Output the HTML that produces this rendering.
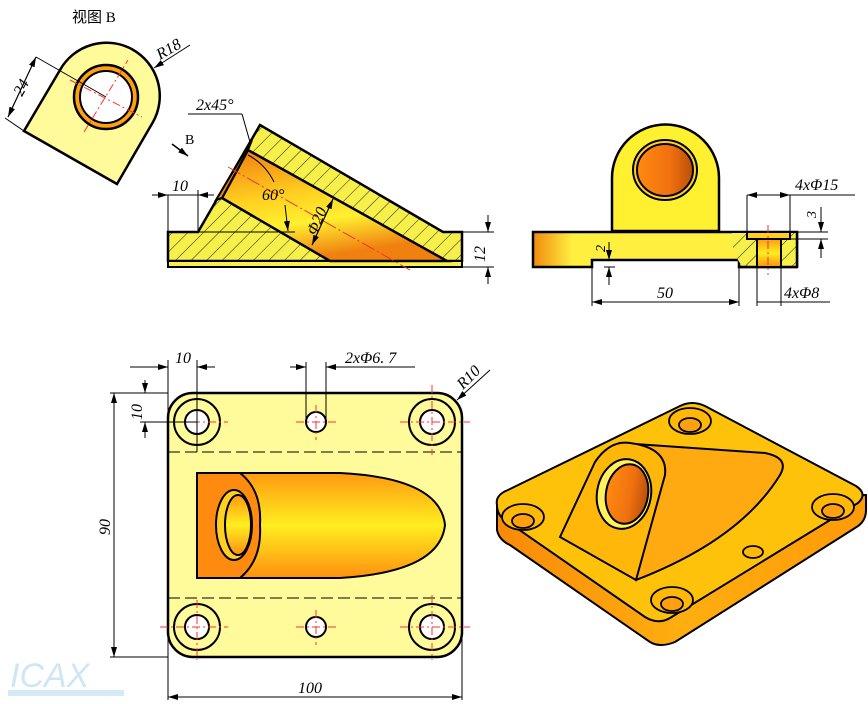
<!DOCTYPE html>
<html><head><meta charset="utf-8"><style>
html,body{margin:0;padding:0;background:#fff;}
svg{display:block;}
text{font-family:"Liberation Serif","Noto Serif CJK SC",serif;font-style:italic;font-size:16px;fill:#000;}
</style></head><body>
<svg width="868" height="704" viewBox="0 0 868 704" xmlns="http://www.w3.org/2000/svg">
<defs>
<pattern id="hatch" patternUnits="userSpaceOnUse" width="11" height="11" patternTransform="rotate(45)">
<rect width="11" height="11" fill="#f8f04a"/><line x1="0" y1="0" x2="0" y2="11" stroke="#222" stroke-width="1"/></pattern>
<linearGradient id="bore" x1="0" y1="0" x2="0.3" y2="1"><stop offset="0" stop-color="#f07a10"/><stop offset="0.45" stop-color="#ffd020"/><stop offset="0.7" stop-color="#fff030"/><stop offset="1" stop-color="#f08010"/></linearGradient>
<linearGradient id="cyl" x1="0" y1="0" x2="0" y2="1"><stop offset="0" stop-color="#ff9a10"/><stop offset="0.5" stop-color="#ffee20"/><stop offset="1" stop-color="#ff9010"/></linearGradient>
<linearGradient id="hole" x1="0" y1="0" x2="1" y2="0"><stop offset="0" stop-color="#ff8a10"/><stop offset="0.6" stop-color="#f07010"/><stop offset="1" stop-color="#b85008"/></linearGradient>
<linearGradient id="baseR" x1="0" y1="0" x2="1" y2="0"><stop offset="0" stop-color="#f08a10"/><stop offset="0.15" stop-color="#fff040"/><stop offset="1" stop-color="#fff040"/></linearGradient>
<linearGradient id="side" x1="0" y1="0" x2="1" y2="0"><stop offset="0" stop-color="#f88a08"/><stop offset="0.5" stop-color="#ffae10"/><stop offset="1" stop-color="#ff9a08"/></linearGradient>
<marker id="ar" markerWidth="10" markerHeight="6" refX="10" refY="3" orient="auto" markerUnits="userSpaceOnUse"><path d="M0,0 L10,3 L0,6z" fill="#000"/></marker>
</defs>

<!-- View B title -->
<text x="72" y="22" style="font-style:normal;font-size:15px;font-family:'Liberation Serif','Noto Sans CJK SC',sans-serif">视图 B</text>

<!-- View B -->
<path d="M24,131 L60,70 A51,51 0 0 1 153,122 L117,184 Z" fill="#fffa9a" stroke="#000" stroke-width="2.5"/>
<circle cx="106" cy="97" r="32" fill="#ffa010" stroke="#000" stroke-width="2.5"/>
<circle cx="106" cy="97" r="26" fill="#fff" stroke="#000" stroke-width="2"/>
<line x1="84" y1="132" x2="128" y2="60" stroke="#f33" stroke-dasharray="8,3,2,3"/>
<line x1="70" y1="80" x2="142" y2="117" stroke="#f33" stroke-dasharray="8,3,2,3"/>
<line x1="36" y1="57" x2="106" y2="97" stroke="#000"/>
<line x1="5" y1="118" x2="24" y2="131" stroke="#000"/>
<line x1="36" y1="57" x2="8" y2="117" stroke="#000" marker-end="url(#ar)"/>
<line x1="8" y1="117" x2="36" y2="57" stroke="#000" marker-end="url(#ar)"/>
<text transform="translate(22,97) rotate(-62)" x="0" y="0">24</text>
<line x1="190" y1="45" x2="154" y2="68" stroke="#000" marker-end="url(#ar)"/>
<text transform="translate(160,60) rotate(-30)" x="0" y="0">R18</text>

<!-- B arrow -->
<line x1="172" y1="144" x2="188" y2="156" stroke="#000" stroke-width="1.5" marker-end="url(#ar)"/>
<text x="185" y="144" style="font-style:normal;font-size:14px">B</text>

<!-- Section view -->
<path d="M168,232 L198,232 L260,125 L443,232 L462,232 L462,261 L168,261 Z" fill="url(#hatch)" stroke="#000" stroke-width="2.5"/>
<rect x="168" y="261" width="294" height="6" fill="#f8f04a" stroke="#000" stroke-width="2"/>
<path d="M248,150 L447,261 L330,261 L222,198 Z" fill="url(#bore)" stroke="#000" stroke-width="2.5"/>
<path d="M252,140 L248,150 L222,198 L216,200 Z" fill="#f08a10" stroke="#000" stroke-width="2"/>
<line x1="228" y1="167" x2="410" y2="270" stroke="#e33" stroke-dasharray="14,3,2,3"/>
<line x1="198" y1="232" x2="295" y2="232" stroke="#000" stroke-width="1"/>
<path d="M248,155 A60,60 0 0 1 274,182" fill="none" stroke="#000"/>
<line x1="285" y1="205" x2="288" y2="231" stroke="#000" marker-end="url(#ar)"/>
<text x="262" y="200">60°</text>
<line x1="333" y1="199" x2="312" y2="245" stroke="#000" marker-end="url(#ar)"/>
<line x1="312" y1="245" x2="333" y2="199" stroke="#000" marker-end="url(#ar)"/>
<text transform="translate(316,236) rotate(-67)">Φ20</text>
<line x1="188" y1="114" x2="242" y2="114" stroke="#000"/>
<line x1="242" y1="114" x2="250" y2="142" stroke="#000"/>
<text x="196" y="110">2x45°</text>
<line x1="168" y1="195" x2="168" y2="232" stroke="#000"/>
<line x1="198" y1="190" x2="198" y2="232" stroke="#000"/>
<line x1="152" y1="195" x2="168" y2="195" stroke="#000" marker-end="url(#ar)"/>
<line x1="214" y1="195" x2="198" y2="195" stroke="#000" marker-end="url(#ar)"/>
<line x1="168" y1="195" x2="198" y2="195" stroke="#000"/>
<text x="172" y="191">10</text>
<line x1="462" y1="232" x2="494" y2="232" stroke="#000"/>
<line x1="462" y1="267" x2="494" y2="267" stroke="#000"/>
<line x1="488" y1="215" x2="488" y2="232" stroke="#000" marker-end="url(#ar)"/>
<line x1="488" y1="284" x2="488" y2="267" stroke="#000" marker-end="url(#ar)"/>
<text transform="translate(485,262) rotate(-90)">12</text>

<!-- Right view -->
<path d="M612,231 L612,178 A53,53 0 0 1 719,178 L719,231 Z" fill="#fff030" stroke="#000" stroke-width="2.5"/>
<ellipse cx="665" cy="170" rx="32" ry="30" fill="#ffd020" stroke="#000" stroke-width="2"/>
<ellipse cx="665" cy="170" rx="28" ry="26" fill="url(#hole)" stroke="#000" stroke-width="2"/>
<path d="M533,232 L797,232 L797,267 L739,267 L739,260 L592,260 L592,267 L533,267 Z" fill="url(#baseR)" stroke="#000" stroke-width="2.5"/>
<path d="M732,233 L797,233 L797,266 L742,266 Q730,250 732,233Z" fill="url(#hatch)"/>
<line x1="797" y1="232" x2="797" y2="267" stroke="#000" stroke-width="2.5"/>
<line x1="739" y1="267" x2="797" y2="267" stroke="#000" stroke-width="2.5"/>
<rect x="747" y="232" width="43" height="7" fill="#ffd020" stroke="#000" stroke-width="2"/>
<rect x="757" y="239" width="24" height="28" fill="url(#cyl)" stroke="#000" stroke-width="2"/>
<line x1="768" y1="225" x2="768" y2="275" stroke="#e33" stroke-dasharray="8,3,2,3"/>
<line x1="592" y1="267" x2="592" y2="306" stroke="#000"/>
<line x1="739" y1="267" x2="739" y2="306" stroke="#000"/>
<line x1="665" y1="302" x2="592" y2="302" stroke="#000" marker-end="url(#ar)"/>
<line x1="665" y1="302" x2="739" y2="302" stroke="#000" marker-end="url(#ar)"/>
<text x="657" y="298">50</text>
<line x1="609" y1="242" x2="609" y2="260" stroke="#000" marker-end="url(#ar)"/>
<line x1="609" y1="285" x2="609" y2="267" stroke="#000" marker-end="url(#ar)"/>
<line x1="604" y1="267" x2="615" y2="267" stroke="#000"/>
<text transform="translate(605,252) rotate(-90)" style="font-size:14px">2</text>
<line x1="747" y1="195" x2="747" y2="232" stroke="#000"/>
<line x1="790" y1="195" x2="790" y2="232" stroke="#000"/>
<line x1="747" y1="195" x2="855" y2="195" stroke="#000"/>
<line x1="770" y1="195" x2="747" y2="195" stroke="#000" marker-end="url(#ar)"/>
<line x1="770" y1="195" x2="790" y2="195" stroke="#000" marker-end="url(#ar)"/>
<text x="795" y="190">4xΦ15</text>
<line x1="797" y1="232" x2="828" y2="232" stroke="#000"/>
<line x1="790" y1="239" x2="828" y2="239" stroke="#000"/>
<line x1="821" y1="207" x2="821" y2="232" stroke="#000" marker-end="url(#ar)"/>
<line x1="821" y1="258" x2="821" y2="239" stroke="#000" marker-end="url(#ar)"/>
<text transform="translate(816,218) rotate(-90)" style="font-size:14px">3</text>
<line x1="757" y1="267" x2="757" y2="306" stroke="#000"/>
<line x1="781" y1="267" x2="781" y2="306" stroke="#000"/>
<line x1="757" y1="302" x2="830" y2="302" stroke="#000"/>
<text x="784" y="298">4xΦ8</text>

<!-- Plan view -->
<rect x="168" y="393" width="294" height="264" rx="25" fill="#fffa9a" stroke="#000" stroke-width="2.5"/>
<line x1="168" y1="452" x2="462" y2="452" stroke="#000" stroke-dasharray="12,5"/>
<line x1="168" y1="598" x2="462" y2="598" stroke="#000" stroke-dasharray="12,5"/>
<path d="M197,473 L340,473 Q440,478 445,525 Q440,572 340,578 L197,578 Z" fill="url(#cyl)" stroke="#000" stroke-width="2"/>
<path d="M197,473 L240,473 Q262,490 260,525 Q262,560 240,578 L197,578 Z" fill="#ff8a10" stroke="#000" stroke-width="2"/>
<ellipse cx="234" cy="525" rx="18" ry="35" fill="#ffd020" stroke="#000" stroke-width="2"/>
<ellipse cx="238" cy="525" rx="13" ry="30" fill="url(#cyl)" stroke="#000" stroke-width="2"/>
<g stroke="#000" stroke-width="2" fill="#fffa9a">
<circle cx="197" cy="422" r="23"/><circle cx="432" cy="422" r="23"/><circle cx="197" cy="627" r="23"/><circle cx="432" cy="627" r="23"/>
</g>
<g stroke="#000" stroke-width="2" fill="#fff">
<circle cx="197" cy="422" r="12"/><circle cx="432" cy="422" r="12"/><circle cx="197" cy="627" r="12"/><circle cx="432" cy="627" r="12"/>
<circle cx="316" cy="422" r="10"/><circle cx="316" cy="627" r="10"/>
</g>
<g stroke="#f33" stroke-width="1" stroke-dasharray="8,3,2,3">
<line x1="160" y1="422" x2="228" y2="422"/><line x1="400" y1="422" x2="470" y2="422"/><line x1="160" y1="627" x2="228" y2="627"/><line x1="400" y1="627" x2="470" y2="627"/>
<line x1="296" y1="422" x2="336" y2="422"/><line x1="296" y1="627" x2="336" y2="627"/>
<line x1="316" y1="405" x2="316" y2="440"/><line x1="316" y1="610" x2="316" y2="645"/>
<line x1="197" y1="600" x2="197" y2="660"/><line x1="432" y1="385" x2="432" y2="455"/><line x1="432" y1="595" x2="432" y2="660"/>
</g>
<g stroke="#000" stroke-width="1" fill="none">
<line x1="168" y1="360" x2="168" y2="700"/>
<line x1="197" y1="360" x2="197" y2="452"/>
<line x1="130" y1="367" x2="168" y2="367" marker-end="url(#ar)"/>
<line x1="215" y1="367" x2="197" y2="367" marker-end="url(#ar)"/>
<line x1="145" y1="380" x2="145" y2="393" marker-end="url(#ar)"/>
<line x1="145" y1="438" x2="145" y2="422" marker-end="url(#ar)"/>
<line x1="110" y1="393" x2="168" y2="393"/>
<line x1="140" y1="422" x2="197" y2="422"/>
<line x1="306" y1="362" x2="306" y2="422"/>
<line x1="326" y1="362" x2="326" y2="422"/>
<line x1="290" y1="367" x2="306" y2="367" marker-end="url(#ar)"/>
<line x1="415" y1="367" x2="326" y2="367" marker-end="url(#ar)"/>
<line x1="110" y1="657" x2="168" y2="657"/>
<line x1="114" y1="525" x2="114" y2="393" marker-end="url(#ar)"/>
<line x1="114" y1="525" x2="114" y2="657" marker-end="url(#ar)"/>
<line x1="462" y1="600" x2="462" y2="700"/>
<line x1="315" y1="697" x2="168" y2="697" marker-end="url(#ar)"/>
<line x1="315" y1="697" x2="462" y2="697" marker-end="url(#ar)"/>
<line x1="490" y1="370" x2="457" y2="400" marker-end="url(#ar)"/>
</g>
<text x="175" y="363">10</text>
<text transform="translate(142,420) rotate(-90)">10</text>
<text x="345" y="363">2xΦ6. 7</text>
<text transform="translate(110,535) rotate(-90)">90</text>
<text x="298" y="693">100</text>
<text transform="translate(463,390) rotate(-45)">R10</text>

<!-- watermark -->
<text x="10" y="687" style="font-size:34px;fill:#cfe6f4;font-family:'Liberation Sans',sans-serif">ICAX</text>
<rect x="8" y="690" width="116" height="6" fill="#d6eaf6"/>

<!-- Isometric view -->
<path d="M497,505 L497,530 Q499,540 510,545 L650,642 Q660,648 675,642 L855,528 Q866,522 866,510 L866,495 Z" fill="url(#side)" stroke="#000" stroke-width="2"/>
<path d="M497,505 Q495,495 508,490 L680,406 Q692,400 705,406 L856,486 Q868,494 858,503 L670,618 Q658,625 645,617 L505,520 Q497,515 497,505 Z" fill="#ffc20a" stroke="#000" stroke-width="2"/>
<g stroke="#000" stroke-width="1.8">
<ellipse cx="690" cy="421" rx="21" ry="13" fill="#ffb808"/><ellipse cx="690" cy="425" rx="11" ry="7" fill="#ffa010"/>
<ellipse cx="523" cy="517" rx="21" ry="13" fill="#ffb808"/><ellipse cx="523" cy="521" rx="11" ry="7" fill="#ffa010"/>
<ellipse cx="833" cy="507" rx="21" ry="13" fill="#ffb808"/><ellipse cx="833" cy="511" rx="11" ry="7" fill="#ffa010"/>
<ellipse cx="672" cy="600" rx="21" ry="13" fill="#ffb808"/><ellipse cx="672" cy="604" rx="11" ry="7" fill="#ffa010"/>
<ellipse cx="753" cy="552" rx="10" ry="6" fill="#ffb808"/>
</g>
<path d="M620,443 L765,453 Q790,458 780,475 Q740,540 636,580 Z" fill="#ffaa10" stroke="#000" stroke-width="2"/>
<path d="M560,537 L595,462 Q610,440 630,443 Q668,448 665,475 L636,580 Z" fill="#ffb80a" stroke="#000" stroke-width="2"/>
<ellipse cx="624" cy="494" rx="27" ry="35" fill="#fff060" stroke="#000" stroke-width="2" transform="rotate(10 624 494)"/>
<ellipse cx="627" cy="494" rx="21" ry="30" fill="url(#hole)" stroke="#000" stroke-width="2" transform="rotate(10 627 494)"/>
</svg>
</body></html>
